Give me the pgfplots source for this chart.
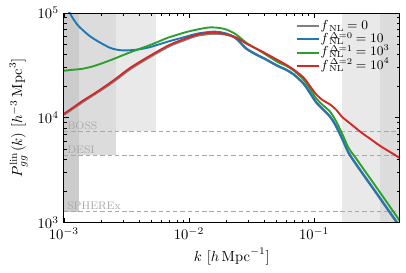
\documentclass[border=0pt]{standalone}
\usepackage{pgfplots}
\pgfplotsset{compat=1.18}
\definecolor{cblue}{RGB}{31,119,180}
\definecolor{cgreen}{RGB}{44,160,44}
\definecolor{cred}{RGB}{214,39,40}
\definecolor{cgray}{RGB}{128,128,128}
\definecolor{rlight}{RGB}{233,233,233}
\definecolor{rmid}{RGB}{220,220,220}
\definecolor{rdark}{RGB}{204,204,204}
\definecolor{survey}{RGB}{168,168,168}
\newcommand{\fsup}[1]{$f$\kern0.3pt\raisebox{-1.4pt}{\rlap{$\scriptstyle\mathrm{NL}$}}\kern0.6pt\raisebox{3.0pt}{$\scriptstyle #1$}}
\begin{document}
\begin{tikzpicture}
\begin{axis}[
  width=230.7pt, height=144pt, scale only axis,
  xmode=log, ymode=log,
  xmin=1e-3, xmax=0.4838, ymin=1e3, ymax=1e5,
  xtick={1e-3,1e-2,1e-1}, ytick={1e3,1e4,1e5},
  tick align=inside,
  major tick length=3.2pt, minor tick length=1.8pt,
  every tick/.style={black, line width=0.45pt},
  axis line style={line width=0.6pt},
  axis on top,
  xlabel={$k\ [h\,\mathrm{Mpc}^{-1}]$},
  ylabel={$P^{\mathrm{lin}}_{gg}(k)\ [h^{-3}\,\mathrm{Mpc}^3]$},
  xlabel style={yshift=1pt},
  legend style={draw=none, fill=none, at={(0.985,0.985)}, anchor=north east,
    font=\fontsize{8.6}{10}\selectfont, row sep=0pt,
    nodes={text height=6.4pt, text depth=2.2pt, inner sep=0.3pt}},
  legend cell align=left,
  legend image code/.code={\draw[#1] (0pt,0pt) -- (15pt,0pt);},
]
% survey / scale regions
\addplot[fill=rlight, draw=none, forget plot] coordinates {(1e-3,7.40e3) (5.48e-3,7.40e3) (5.48e-3,1e5) (1e-3,1e5)} -- cycle;
\addplot[fill=rmid, draw=none, forget plot] coordinates {(1e-3,4.41e3) (2.60e-3,4.41e3) (2.60e-3,1e5) (1e-3,1e5)} -- cycle;
\addplot[fill=rdark, draw=none, forget plot] coordinates {(1e-3,1.27e3) (1.33e-3,1.27e3) (1.33e-3,1e5) (1e-3,1e5)} -- cycle;
\addplot[fill=rlight, draw=none, forget plot] coordinates {(0.167,1e3) (0.4838,1e3) (0.4838,1e5) (0.167,1e5)} -- cycle;
\addplot[fill=rmid, draw=none, forget plot] coordinates {(0.335,1e3) (0.4838,1e3) (0.4838,1e5) (0.335,1e5)} -- cycle;
% noise levels
\addplot[survey, dash pattern=on 3pt off 2pt, line width=0.6pt, forget plot] coordinates {(1e-3,7.40e3) (0.4838,7.40e3)};
\addplot[survey, dash pattern=on 3pt off 2pt, line width=0.6pt, forget plot] coordinates {(1e-3,4.41e3) (0.4838,4.41e3)};
\addplot[survey, dash pattern=on 3pt off 2pt, line width=0.6pt, forget plot] coordinates {(1e-3,1.27e3) (0.4838,1.27e3)};
\node[anchor=south west, text=survey, font=\fontsize{7.5}{8}\selectfont, inner sep=1pt] at (axis cs:1.03e-3,7.40e3) {BOSS};
\node[anchor=south west, text=survey, font=\fontsize{7.5}{8}\selectfont, inner sep=1pt] at (axis cs:1.03e-3,4.41e3) {DESI};
\node[anchor=south west, text=survey, font=\fontsize{7.5}{8}\selectfont, inner sep=1pt] at (axis cs:1.03e-3,1.27e3) {SPHEREx};
% f_NL = 0
\addplot[cgray, line width=1.7pt, smooth] coordinates {
(1.0e-3,1.07e4) (1.400e-3,1.41e4) (2.181e-3,1.99e4) (2.603e-3,2.31e4) (3.396e-3,2.93e4)
(4.838e-3,3.80e4) (6.894e-3,4.81e4) (8.991e-3,5.47e4) (1.173e-2,6.10e4) (1.585e-2,6.36e4)
(1.995e-2,6.23e4) (2.382e-2,5.71e4) (2.844e-2,4.61e4) (3.396e-2,4.05e4) (4.053e-2,3.64e4)
(5.102e-2,3.13e4) (5.984e-2,2.87e4) (6.894e-2,2.58e4) (8.229e-2,2.12e4) (9.316e-2,1.71e4)
(0.1036,1.41e4) (0.1173,1.21e4) (0.1328,1.04e4) (0.1476,8.60e3) (0.1672,6.36e3)
(0.1892,4.61e3) (0.2181,3.56e3) (0.2382,3.06e3) (0.2844,2.27e3)
(0.3396,1.68e3) (0.4053,1.24e3) (0.4838,9.18e2)};
\addlegendentry{$f$\kern0.3pt\raisebox{-1.4pt}{$\scriptstyle\mathrm{NL}$}$\;=0$}
% Delta = 0
\addplot[cblue, line width=1.3pt, smooth] coordinates {
(1.0e-3,1.24e5) (1.112e-3,1.00e5) (1.173e-3,8.98e4) (1.281e-3,7.73e4) (1.400e-3,6.94e4)
(1.585e-3,6.10e4) (1.763e-3,5.59e4) (1.995e-3,5.13e4) (2.382e-3,4.61e4) (2.844e-3,4.41e4)
(3.396e-3,4.41e4) (4.053e-3,4.51e4) (4.838e-3,4.71e4) (5.774e-3,5.02e4) (6.894e-3,5.36e4)
(8.991e-3,5.84e4) (1.173e-2,6.36e4) (1.585e-2,6.64e4) (1.995e-2,6.36e4) (2.382e-2,5.71e4)
(2.844e-2,4.61e4) (3.396e-2,4.05e4) (4.053e-2,3.64e4) (5.102e-2,3.13e4) (5.984e-2,2.87e4)
(6.894e-2,2.58e4) (8.229e-2,2.12e4) (9.316e-2,1.71e4) (0.1036,1.41e4) (0.1173,1.21e4)
(0.1328,1.04e4) (0.1476,8.60e3) (0.1672,6.36e3) (0.1892,4.61e3)
(0.2181,3.56e3) (0.2382,3.06e3) (0.2844,2.27e3) (0.3396,1.68e3) (0.4053,1.24e3)
(0.4838,9.18e2)};
\addlegendentry{\fsup{\Delta=0}$\;=10$}
% Delta = 1
\addplot[cgreen, line width=1.3pt, smooth] coordinates {
(1.0e-3,2.81e4) (1.173e-3,2.87e4) (1.400e-3,2.93e4) (1.763e-3,3.13e4) (2.382e-3,3.56e4)
(2.844e-3,3.88e4) (3.580e-3,4.32e4) (4.838e-3,4.92e4) (5.774e-3,5.36e4) (6.894e-3,5.84e4)
(9.824e-3,6.64e4) (1.400e-2,7.24e4) (1.672e-2,7.24e4) (1.995e-2,6.94e4) (2.382e-2,6.23e4)
(2.844e-2,5.24e4) (3.396e-2,4.61e4) (4.053e-2,4.05e4) (5.102e-2,3.41e4) (5.984e-2,3.13e4)
(6.894e-2,2.81e4) (8.229e-2,2.31e4) (9.316e-2,1.87e4) (0.1036,1.54e4) (0.1173,1.32e4)
(0.1328,1.16e4) (0.1476,9.58e3) (0.1672,7.09e3) (0.1892,5.13e3)
(0.2181,4.05e3) (0.2382,3.48e3) (0.2844,2.58e3) (0.3396,1.91e3) (0.4053,1.41e3)
(0.4838,1.04e3)};
\addlegendentry{\fsup{\Delta=1}$\;=10^3$}
% Delta = 2
\addplot[cred, line width=1.3pt, smooth] coordinates {
(1.0e-3,1.09e4) (1.173e-3,1.24e4) (1.400e-3,1.44e4) (1.763e-3,1.71e4) (2.181e-3,2.03e4)
(2.603e-3,2.36e4) (3.396e-3,3.00e4) (4.838e-3,3.88e4) (6.894e-3,4.92e4) (8.991e-3,5.59e4)
(1.173e-2,6.23e4) (1.585e-2,6.51e4) (1.995e-2,6.23e4) (2.382e-2,5.84e4) (2.844e-2,5.13e4)
(3.396e-2,4.61e4) (4.053e-2,4.14e4) (5.102e-2,3.56e4) (5.984e-2,3.20e4) (6.894e-2,2.87e4)
(8.229e-2,2.42e4) (9.316e-2,1.99e4) (0.1036,1.68e4) (0.1173,1.47e4) (0.1328,1.35e4)
(0.1503,1.19e4) (0.1672,1.02e4) (0.1995,8.60e3) (0.2382,7.24e3) (0.2844,6.23e3)
(0.3396,5.36e3) (0.4053,4.71e3) (0.4838,4.14e3)};
\addlegendentry{\fsup{\Delta=2}$\;=10^4$}
\end{axis}
\path (current axis.outer east) ++(4pt,0pt);
\path (current axis.outer west) ++(-3pt,0pt);
\path (current axis.outer south) ++(0pt,-2pt);
\path (current axis.outer north) ++(0pt,1.5pt);
\end{tikzpicture}
\end{document}
